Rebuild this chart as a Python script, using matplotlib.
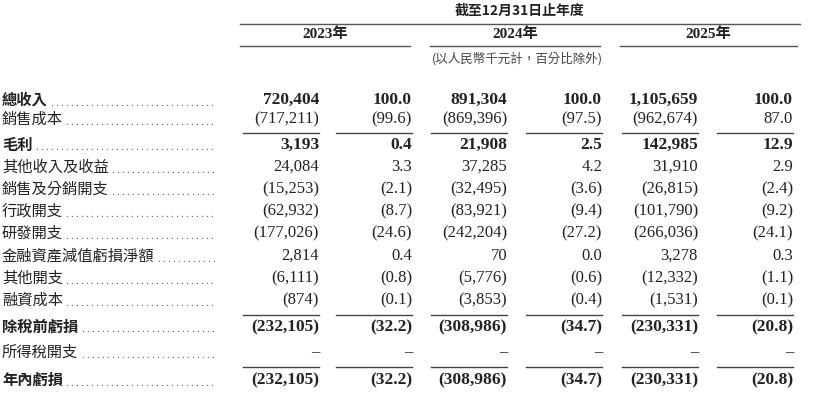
import matplotlib
matplotlib.use("Agg")
import matplotlib.pyplot as plt

labels = ["總收入", "銷售成本", "毛利", "其他收入及收益", "銷售及分銷開支", "行政開支", "研發開支",
          "金融資產減值虧損淨額", "其他開支", "融資成本", "除稅前虧損", "所得稅開支", "年內虧損"]
bold_rows = [0, 2, 10, 12]
v2023 = ["720,404", "(717,211)", "3,193", "24,084", "(15,253)", "(62,932)", "(177,026)", "2,814", "(6,111)", "(874)", "(232,105)", "–", "(232,105)"]
p2023 = ["100.0", "(99.6)", "0.4", "3.3", "(2.1)", "(8.7)", "(24.6)", "0.4", "(0.8)", "(0.1)", "(32.2)", "–", "(32.2)"]
v2024 = ["891,304", "(869,396)", "21,908", "37,285", "(32,495)", "(83,921)", "(242,204)", "70", "(5,776)", "(3,853)", "(308,986)", "–", "(308,986)"]
p2024 = ["100.0", "(97.5)", "2.5", "4.2", "(3.6)", "(9.4)", "(27.2)", "0.0", "(0.6)", "(0.4)", "(34.7)", "–", "(34.7)"]
v2025 = ["1,105,659", "(962,674)", "142,985", "31,910", "(26,815)", "(101,790)", "(266,036)", "3,278", "(12,332)", "(1,531)", "(230,331)", "–", "(230,331)"]
p2025 = ["100.0", "87.0", "12.9", "2.9", "(2.4)", "(9.2)", "(24.1)", "0.3", "(1.1)", "(0.1)", "(20.8)", "–", "(20.8)"]
years = ["2023年", "2024年", "2025年"]

row_y = [100, 119, 145, 167, 189, 211, 233, 256, 278, 300, 327, 352, 380]
underline_after = [1, 9, 11]
col_right = [319, 412, 507, 602, 698, 793]
columns = [v2023, p2023, v2024, p2024, v2025, p2025]

W, H = 830, 412
fig = plt.figure(figsize=(8.3, 4.12), dpi=100)
ax = fig.add_axes([0, 0, 1, 1])
ax.set_xlim(0, W); ax.set_ylim(H, 0); ax.axis("off")
cjk = ["Noto Sans CJK TC", "DejaVu Sans"]
serif = ["Liberation Serif", "Noto Sans CJK TC"]
col = "#222222"

ax.text(520, 11, "截至12月31日止年度", family=cjk, fontsize=10, ha="center", va="center", color=col, weight="bold")
ax.plot([240, 800], [24, 24], color="#555", lw=1)
for yr, (a, b) in zip(years, [(240, 410), (430, 600), (620, 797)]):
    ax.text((a + b) / 2, 34, yr, family=serif, fontsize=11, weight="bold", ha="center", va="center", color=col)
    ax.plot([a, b], [46, 46], color="#555", lw=1)
ax.text(517, 59, "(以人民幣千元計，百分比除外)", family=cjk, fontsize=9, style="italic", ha="center", va="center", color="#444")

fig.canvas.draw()
r = fig.canvas.get_renderer()
for i, lab in enumerate(labels):
    b = i in bold_rows
    t = ax.text(2, row_y[i], lab, family=cjk, fontsize=11, weight="bold" if b else "normal",
                ha="left", va="center", color=col)
    bb = t.get_window_extent(r)
    x = bb.x1 + 4
    while x < 214:
        ax.text(x, row_y[i] + 3, ".", family=serif, fontsize=8, ha="center", va="center", color="#555")
        x += 5.0
    for c, vals in enumerate(columns):
        ax.text(col_right[c], row_y[i], vals[i], family=serif, fontsize=12.5 if b else 12,
                weight="bold" if b else "normal", ha="right", va="center", color=col)
for k in underline_after:
    y = (row_y[k] + row_y[k + 1]) / 2 + 1
    for c in range(6):
        ax.plot([col_right[c] - 76, col_right[c]], [y, y], color="#444", lw=1)

fig.savefig("out.png", dpi=100)
